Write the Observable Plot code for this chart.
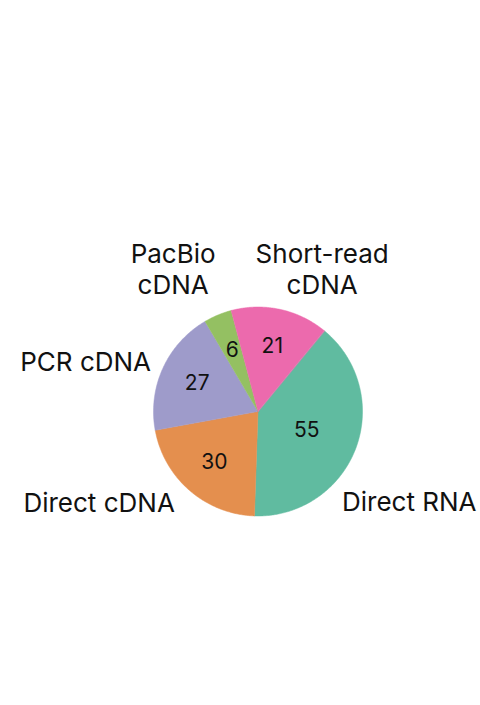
<!DOCTYPE html>
<html>
<head>
<meta charset="utf-8">
<script src="https://cdn.jsdelivr.net/npm/d3@7"></script>
<script src="https://cdn.jsdelivr.net/npm/@observablehq/plot@0.6"></script>
<style>
  html, body { margin: 0; padding: 0; background: #fff; }
  #chart { width: 480px; height: 705px; }
</style>
</head>
<body>
<div id="chart"></div>
<script>
const categories = ["Direct RNA", "Direct cDNA", "PCR cDNA", "PacBio cDNA", "Short-read cDNA"];
const labels = ["Direct RNA", "Direct cDNA", "PCR cDNA", "PacBio\ncDNA", "Short-read\ncDNA"];
const values = [55, 30, 27, 6, 21];
const colors = ["#60bba0", "#e48f4e", "#9e9bca", "#94c062", "#ec6aad"];

const W = 480, H = 705;
const cx = 257.5, cy = 411, R = 104.5;
const startDeg = 39.5;
const FONT = "Inter, 'Noto Sans', sans-serif";
const LABEL_SIZE = 26, VALUE_SIZE = 21, LINE_H = 1.17;

const pie = d3.pie().sort(null).value(d => d.value)
  .startAngle(startDeg * Math.PI / 180)
  .endAngle(startDeg * Math.PI / 180 + 2 * Math.PI);
const table = categories.map((c, i) => ({category: c, label: labels[i], value: values[i]}));
const arcs = pie(table);

// slice polygons (angle clockwise from top), in units of the radius
const pts = [];
arcs.forEach(a => {
  const cat = a.data.category;
  pts.push({category: cat, x: 0, y: 0});
  const n = Math.max(2, Math.ceil((a.endAngle - a.startAngle) / 0.01));
  for (let k = 0; k <= n; k++) {
    const t = a.startAngle + (a.endAngle - a.startAngle) * k / n;
    pts.push({category: cat, x: Math.sin(t), y: Math.cos(t)});
  }
});

const mid = a => (a.startAngle + a.endAngle) / 2;
const valueLabels = arcs.map(a => {
  const r = a.endAngle - a.startAngle > Math.PI / 2 ? 0.5 : 0.64;
  return {value: a.data.value, x: r * Math.sin(mid(a)), y: r * Math.cos(mid(a))};
});

// outer labels: start at the mid-angle just outside the rim, keep clear of the disc, the frame and each other
const ctx = document.createElement("canvas").getContext("2d");
ctx.font = `${LABEL_SIZE}px ${FONT}`;
const Rc = R + 8;
const boxes = arcs.map(a => {
  const m = mid(a), s = Math.sin(m), c = Math.cos(m);
  const lines = a.data.label.split("\n");
  const w = Math.max(...lines.map(l => ctx.measureText(l).width));
  const h = lines.length * LABEL_SIZE * LINE_H;
  const d = 1.15 * R;
  return {label: a.data.label, w, h, s, c, side: Math.abs(s) >= 0.5, px: cx + d * s, py: cy - d * c};
});
function nearest(b) {
  const nx = Math.max(b.px - b.w / 2, Math.min(cx, b.px + b.w / 2));
  const ny = Math.max(b.py - b.h / 2, Math.min(cy, b.py + b.h / 2));
  return [nx - cx, ny - cy];
}
function clampX(b) { b.px = Math.min(W - 4 - b.w / 2, Math.max(4 + b.w / 2, b.px)); }
function clearDisc(b) {
  let [dx, dy] = nearest(b);
  if (Math.hypot(dx, dy) >= Rc) return;
  if (b.side && Math.abs(dy) < Rc) {
    const need = Math.sqrt(Rc * Rc - dy * dy);
    const sx = Math.sign(b.s);
    b.px = cx + sx * (need + b.w / 2);
    clampX(b);
    [dx, dy] = nearest(b);
    if (Math.hypot(dx, dy) >= Rc) return;
  }
  const need = Math.sqrt(Math.max(0, Rc * Rc - dx * dx));
  const sy = Math.sign(b.py - cy) || -1;
  b.py = cy + sy * (need + b.h / 2);
}
for (let it = 0; it < 30; it++) {
  boxes.forEach(b => { clampX(b); clearDisc(b); });
  for (let i = 0; i < boxes.length; i++) for (let j = i + 1; j < boxes.length; j++) {
    const A = boxes[i], B = boxes[j];
    const ox = (A.w + B.w) / 2 + 40 - Math.abs(A.px - B.px);
    const oy = (A.h + B.h) / 2 - Math.abs(A.py - B.py);
    if (ox > 0 && oy > 0) {
      const dir = Math.sign(B.px - A.px) || 1;
      A.px -= dir * ox / 2; B.px += dir * ox / 2;
    }
  }
}
boxes.forEach(b => { clampX(b); clearDisc(b); });
const outerLabels = boxes.map(b => ({label: b.label, x: (b.px - cx) / R, y: (cy - b.py) / R}));

const chart = Plot.plot({
  width: W, height: H,
  margin: 0,
  x: {domain: [-cx / R, (W - cx) / R], axis: null},
  y: {domain: [(cy - H) / R, cy / R], axis: null},
  color: {domain: categories, range: colors},
  style: {fontFamily: FONT, background: "white"},
  marks: [
    Plot.line(pts, {x: "x", y: "y", z: "category", fill: "category", stroke: "category", strokeWidth: 0.5, curve: "linear-closed"}),
    Plot.text(valueLabels, {x: "x", y: "y", text: d => String(d.value), fontSize: VALUE_SIZE, fill: "#111"}),
    Plot.text(outerLabels, {x: "x", y: "y", text: "label", fontSize: LABEL_SIZE, lineHeight: LINE_H, fill: "#111"})
  ]
});
document.getElementById("chart").appendChild(chart);
</script>
</body>
</html>
